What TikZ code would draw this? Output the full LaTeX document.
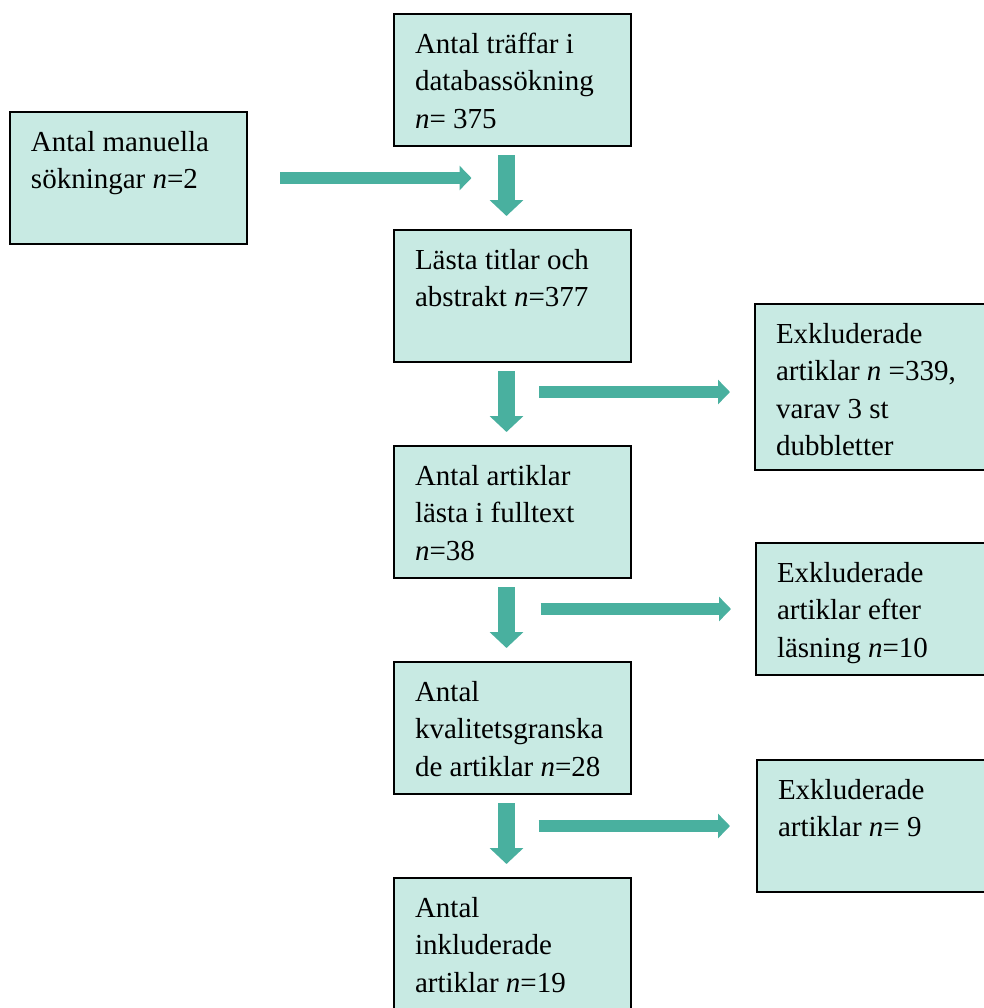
\documentclass[tikz,border=0pt]{standalone}
\usepackage{fontspec}
\setmainfont{Liberation Serif}
\usepackage{tikz}
\usetikzlibrary{arrows.meta,positioning}
\definecolor{flowfill}{RGB}{200,234,227}
\definecolor{flowteal}{RGB}{73,176,159}

\begin{document}
\begin{tikzpicture}[x=0.5pt, y=-0.5pt,
  flowbox/.style={rectangle, draw=black, line width=1pt, fill=flowfill,
              anchor=north west, text width=97.5pt, align=flush left,
              inner xsep=10.5pt, inner ysep=4.875pt,
              text height=14.75pt, text depth=41.5pt,
              font=\fontsize{14.5pt}{18.75pt}\selectfont},
  sidebox/.style={flowbox, text width=140pt},
  downarrow/.style={color=flowteal, line width=8.5pt,
              -{Triangle[width=16.5pt, length=8pt]}, shorten <=4pt, shorten >=6.5pt},
  sidearrow/.style={color=flowteal, line width=6.25pt,
              -{Triangle[width=12pt, length=6pt]}}]
\useasboundingbox (0,0) rectangle (984,1008);
\node[flowbox] (hits) at (393,13) {Antal träffar i\\ databassökning\\ \textit{n}= 375};
\node[flowbox] (manual) at (9,111) {Antal manuella\\ sökningar \textit{n}=2};
\node[flowbox, below=41pt of hits] (titles) {Lästa titlar och\\ abstrakt \textit{n}=377};
\node[flowbox, below=41pt of titles] (fulltext) {Antal artiklar\\ lästa i fulltext\\ \textit{n}=38};
\node[flowbox, below=41pt of fulltext] (quality) {Antal\\ kvalitetsgranska\\ de artiklar \textit{n}=28};
\node[flowbox, below=41pt of quality] (included) {Antal\\ inkluderade\\ artiklar \textit{n}=19};
\node[sidebox, text depth=58.5pt] (excl1) at (754,303) {Exkluderade\\ artiklar \textit{n} =339,\\ varav 3 st\\ dubbletter};
\node[sidebox] (excl2) at (755,542) {Exkluderade\\ artiklar efter\\ läsning \textit{n}=10};
\node[sidebox] (excl3) at (756,759) {Exkluderade\\ artiklar \textit{n}= 9};
\coordinate (excl1in) at ([yshift=-2.5pt]excl1.west);
% main column
\draw[downarrow] ([xshift=-3pt]hits.south) -- ([xshift=-3pt]titles.north);
\draw[downarrow] ([xshift=-3pt]titles.south) -- ([xshift=-3pt]fulltext.north);
\draw[downarrow] ([xshift=-3pt]fulltext.south) -- ([xshift=-3pt]quality.north);
\draw[downarrow] ([xshift=-3pt]quality.south) -- ([xshift=-3pt]included.north);
% side arrows
\draw[sidearrow, shorten <=16pt, shorten >=20.5pt] (manual.east) -- (manual.east -| titles.north);
\draw[sidearrow, shorten <=13.25pt, shorten >=12pt] (excl1in -| fulltext.north) -- (excl1in);
\draw[sidearrow, shorten <=14pt, shorten >=12pt] (excl2.west -| quality.north) -- (excl2.west);
\draw[sidearrow, shorten <=13pt, shorten >=13pt] (excl3.west -| included.north) -- (excl3.west);
\end{tikzpicture}
\end{document}
